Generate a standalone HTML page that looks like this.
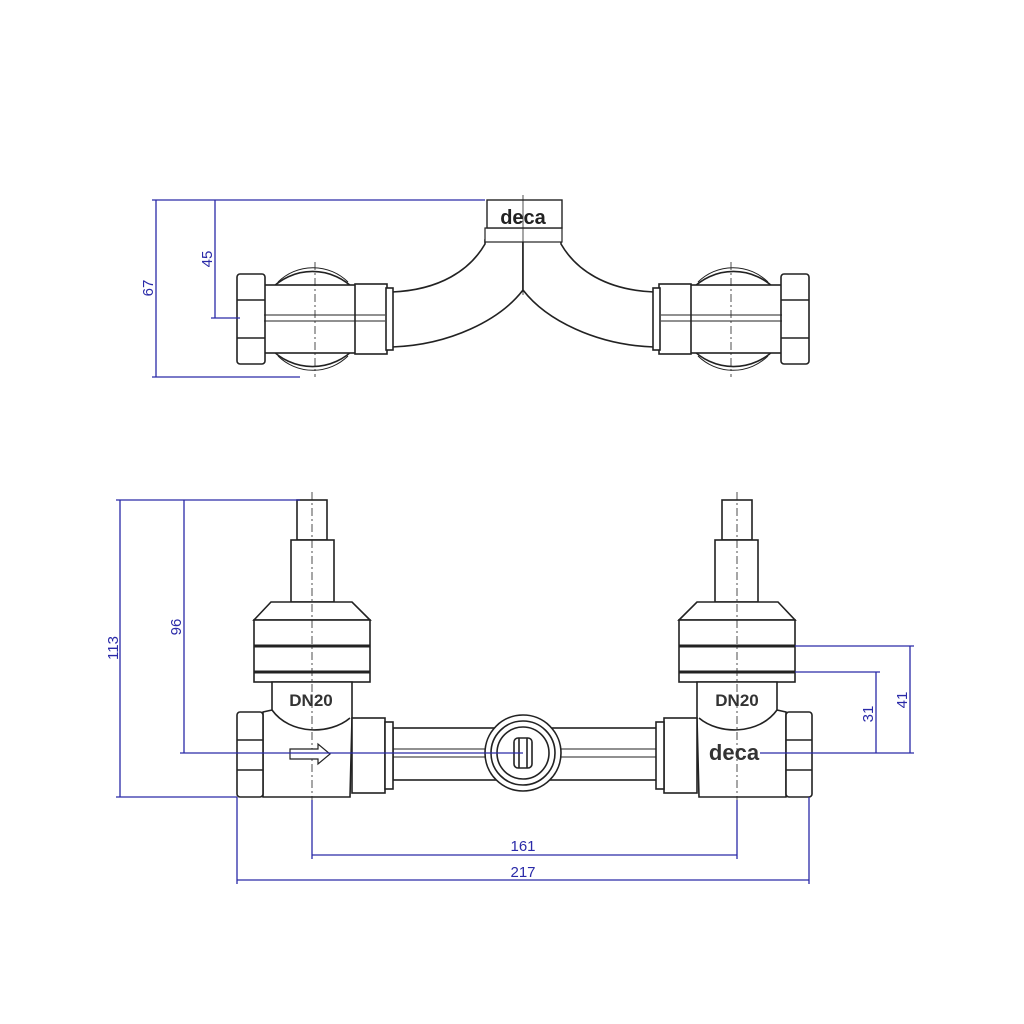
<!DOCTYPE html>
<html><head><meta charset="utf-8"><style>html,body{margin:0;padding:0;background:#fff}svg{display:block}</style></head>
<body>
<svg width="1024" height="1024" viewBox="0 0 1024 1024" xmlns="http://www.w3.org/2000/svg" font-family="Liberation Sans, sans-serif">
<rect width="1024" height="1024" fill="#fff"/>
<defs>
<g id="topL" fill="#fff" stroke="#222" stroke-width="1.6">
  <path d="M392 292 C440 290 470 270 485 244 L485 240 L523 240 L523 290 C500 320 450 345 392 347 Z"/>
  <path d="M270 290 A58 58 0 0 1 355 290 L355 348 A58 58 0 0 1 270 348 Z"/>
  <path d="M278 282 A50 50 0 0 1 348 282 M278 356 A50 50 0 0 0 348 356" fill="none" stroke-width="1"/>
  <rect x="264" y="285" width="92" height="68"/>
  <rect x="355" y="284" width="32" height="70"/>
  <rect x="386" y="288" width="7" height="62"/>
  <rect x="237" y="274" width="28" height="90" rx="3"/>
  <line x1="237" y1="300" x2="265" y2="300"/><line x1="237" y1="338" x2="265" y2="338"/>
  <line x1="264" y1="315" x2="385" y2="315" stroke-width="1"/><line x1="264" y1="321" x2="385" y2="321" stroke-width="1"/>
  <line x1="315" y1="262" x2="315" y2="377" stroke-width="0.8" stroke-dasharray="8,3,2,3"/>
</g>
<g id="botL" fill="#fff" stroke="#222" stroke-width="1.6">
  <rect x="297" y="500" width="30" height="40"/>
  <rect x="291" y="540" width="43" height="62"/>
  <path d="M271 602 L352 602 L370 620 L254 620 Z"/>
  <rect x="254" y="620" width="116" height="62"/>
  <line x1="254" y1="646" x2="370" y2="646" stroke-width="3"/>
  <line x1="254" y1="672" x2="370" y2="672" stroke-width="3"/>
  <path d="M272 682 L352 682 L352 718 L350 797 L263 797 L263 712 L272 710 Z"/>
  <path d="M272 710 C290 735 330 735 350 718" fill="none"/>
  <rect x="352" y="718" width="33" height="75"/>
  <rect x="385" y="722" width="8" height="67"/>
  <rect x="237" y="712" width="26" height="85" rx="3"/>
  <line x1="237" y1="740" x2="263" y2="740"/><line x1="237" y1="770" x2="263" y2="770"/>
  <line x1="312" y1="492" x2="312" y2="830" stroke-width="0.8" stroke-dasharray="8,3,2,3"/>
</g>
</defs>
<!-- top view -->
<use href="#topL"/>
<use href="#topL" transform="translate(1046 0) scale(-1 1)"/>
<rect x="485" y="228" width="77" height="14" fill="#fff" stroke="#222" stroke-width="1.2"/>
<rect x="487" y="200" width="75" height="28" fill="#fff" stroke="#222" stroke-width="1.4"/>
<text x="523" y="224" font-size="20" font-weight="bold" text-anchor="middle" fill="#222">deca</text>
<line x1="523" y1="195" x2="523" y2="295" stroke="#222" stroke-width="0.8"/>
<!-- bottom view -->
<rect x="393" y="728" width="267" height="52" fill="#fff" stroke="#222" stroke-width="1.6"/>
<line x1="393" y1="749" x2="660" y2="749" stroke="#222" stroke-width="1"/>
<line x1="393" y1="757" x2="660" y2="757" stroke="#222" stroke-width="1"/>
<use href="#botL"/>
<use href="#botL" transform="translate(1049 0) scale(-1 1)"/>
<path d="M290 749 L318 749 L318 744 L330 754 L318 764 L318 759 L290 759 Z" fill="#fff" stroke="#222" stroke-width="1.2"/>
<text x="311" y="706" font-size="17" font-weight="bold" text-anchor="middle" fill="#333">DN20</text>
<text x="737" y="706" font-size="17" font-weight="bold" text-anchor="middle" fill="#333">DN20</text>
<text x="734" y="760" font-size="22" font-weight="bold" text-anchor="middle" fill="#333">deca</text>
<g fill="#fff" stroke="#222" stroke-width="1.6">
<circle cx="523" cy="753" r="38"/><circle cx="523" cy="753" r="32"/><circle cx="523" cy="753" r="26"/>
<rect x="514" y="738" width="18" height="30" rx="4"/>
<line x1="519" y1="738" x2="519" y2="768"/><line x1="527" y1="738" x2="527" y2="768"/>
</g>
<!-- dimensions -->
<g stroke="#2a2aa8" stroke-width="1.3" fill="none">
<line x1="152" y1="200" x2="485" y2="200"/><line x1="152" y1="377" x2="300" y2="377"/>
<line x1="156" y1="200" x2="156" y2="377"/>
<line x1="215" y1="200" x2="215" y2="318"/><line x1="211" y1="318" x2="240" y2="318"/>
<line x1="116" y1="500" x2="300" y2="500"/><line x1="116" y1="797" x2="237" y2="797"/>
<line x1="120" y1="500" x2="120" y2="797"/>
<line x1="184" y1="500" x2="184" y2="753"/><line x1="180" y1="753" x2="523" y2="753"/>
<line x1="312" y1="800" x2="312" y2="859"/><line x1="737" y1="800" x2="737" y2="859"/>
<line x1="312" y1="855" x2="737" y2="855"/>
<line x1="237" y1="797" x2="237" y2="884"/><line x1="809" y1="797" x2="809" y2="884"/>
<line x1="237" y1="880" x2="809" y2="880"/>
<line x1="795" y1="646" x2="914" y2="646"/><line x1="795" y1="672" x2="880" y2="672"/>
<line x1="760" y1="753" x2="914" y2="753"/>
<line x1="876" y1="672" x2="876" y2="753"/><line x1="910" y1="646" x2="910" y2="753"/>
</g>
<g fill="#2a2aa8" font-size="15" text-anchor="middle">
<text transform="translate(153 288) rotate(-90)">67</text>
<text transform="translate(212 259) rotate(-90)">45</text>
<text transform="translate(118 648) rotate(-90)">113</text>
<text transform="translate(181 627) rotate(-90)">96</text>
<text transform="translate(873 714) rotate(-90)">31</text>
<text transform="translate(907 700) rotate(-90)">41</text>
<text x="523" y="851">161</text>
<text x="523" y="877">217</text>
</g>
</svg>
</body></html>
